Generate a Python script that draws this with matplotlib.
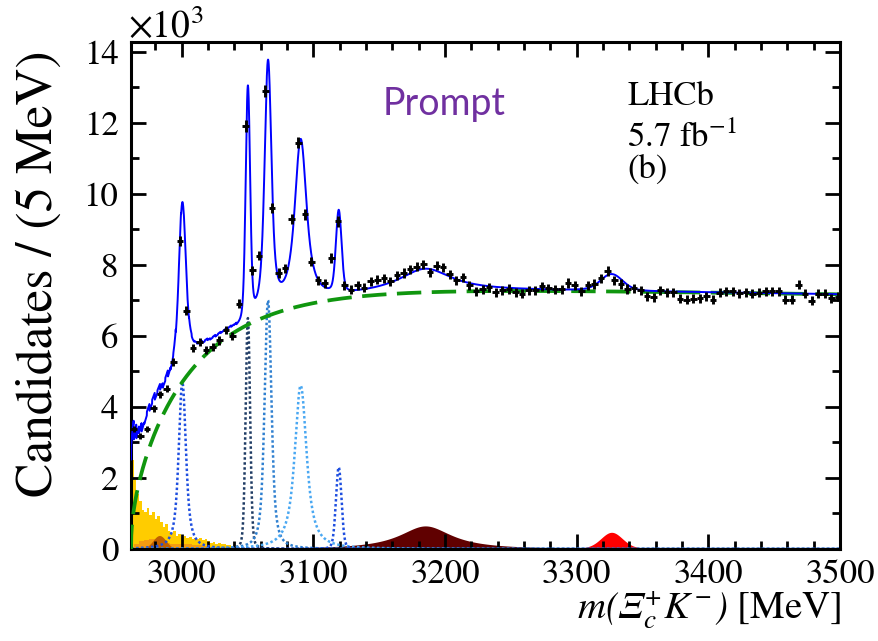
import numpy as np
import matplotlib
matplotlib.use("Agg")
import matplotlib.pyplot as plt
from matplotlib.ticker import MultipleLocator

# ---------------- data (values in units of 10^3 candidates / 5 MeV) ----------------
threshold = 2961.4          # m(Xi_c+) + m(K-)
bin_width = 5.0
first_bin_low = 2961.0
counts = [
    3.38, 3.19, 3.38, 3.96, 4.35, 4.51, 5.26, 8.68, 6.71, 5.65, 5.82, 5.59, 5.68, 5.87, 6.17, 5.99, 6.90,
    11.90, 7.84, 8.26, 12.88, 9.60, 7.77, 7.90, 9.28, 11.44, 9.42, 8.09, 7.56, 7.48, 8.19, 9.22,
    7.42, 7.30, 7.42, 7.36, 7.53, 7.58, 7.62, 7.54, 7.70, 7.77, 7.87, 7.95, 8.01, 7.79, 7.98, 7.93,
    7.73, 7.56, 7.65, 7.42, 7.26, 7.31, 7.37, 7.23, 7.28, 7.32, 7.23, 7.18, 7.28, 7.28, 7.40, 7.34,
    7.31, 7.31, 7.49, 7.42, 7.26, 7.42, 7.46,
    7.62, 7.82, 7.56, 7.46, 7.32, 7.34, 7.28, 7.12, 7.09, 7.28, 7.23, 7.23, 7.04, 7.02, 7.04, 7.06,
    7.12, 7.02, 7.21, 7.25, 7.25, 7.20, 7.23, 7.18, 7.21, 7.25, 7.25, 7.25, 7.02, 7.02, 7.44, 7.18,
    6.99, 7.18, 7.18, 7.06, 7.10,
]
error_scale = 1.5   # weighted-candidate uncertainty relative to sqrt(N)

# narrow Omega_c states: mass, natural width, resolution, peak height
peak_mass = [3000.4, 3050.2, 3065.5, 3090.3, 3119.2]
peak_gamma = [4.5, 0.8, 3.5, 8.7, 1.0]
peak_sigma = [1.5, 1.5, 1.7, 1.9, 1.9]
peak_height = [4.7, 6.5, 7.0, 4.6, 2.3]
peak_colors = ["#1f4fe0", "#1d3a63", "#2f80d0", "#4aa8f2", "#1f4fe0"]

# broad structures: mass, width, resolution, height
broad_mass = [3185.0, 3326.5]
broad_gamma = [48.0, 6.0]
broad_sigma = [2.0, 7.0]
broad_height = [0.65, 0.47]
broad_colors = ["#600000", "#ff0000"]

# background parameters (threshold shape)
bkg_norm, bkg_a, bkg_p, bkg_c, bkg_slope = 7.45, 0.095, 0.4, 66.0, 7.0e-5

# partially reconstructed (feed-down) components near threshold
feed_bin = 2.0
feed_yellow = [2.50, 1.95, 1.55, 1.35, 1.10, 1.05, 1.15, 0.95, 1.05, 0.85, 0.92, 0.75, 0.62, 0.70,
               0.52, 0.45, 0.50, 0.38, 0.42, 0.33, 0.36, 0.30, 0.34, 0.28, 0.31, 0.27, 0.30, 0.24,
               0.27, 0.22, 0.18, 0.20, 0.15, 0.17, 0.13, 0.14, 0.10, 0.11, 0.07, 0.05]
orange_start, orange_bin = 2963.4, 4.0
feed_orange = [0.15, 0.22, 0.25, 0.28, 0.26, 0.22, 0.18, 0.15, 0.14, 0.15, 0.13, 0.12, 0.10,
               0.08, 0.06, 0.04, 0.03]
brown_mass, brown_sigma, brown_height = 2983.0, 5.0, 0.38

# ---------------- model curves ----------------
x = np.arange(threshold, 3500.0001, 0.1)
dx = 0.1


def voigt(m, gamma, sigma, height):
    lor = (gamma / 2.0) / np.pi / ((x - m) ** 2 + (gamma / 2.0) ** 2)
    k = np.arange(-8 * sigma, 8 * sigma + dx / 2, dx)
    g = np.exp(-0.5 * (k / sigma) ** 2)
    prof = np.convolve(lor, g / g.sum(), mode="same")
    return prof / prof.max() * height


q = x - threshold
bkg = bkg_norm * (1 - np.exp(-(bkg_a * q ** bkg_p + q / bkg_c))) * (1 - bkg_slope * q)

peaks = [voigt(m, g, s, h) for m, g, s, h in zip(peak_mass, peak_gamma, peak_sigma, peak_height)]
broads = [voigt(m, g, s, h) for m, g, s, h in zip(broad_mass, broad_gamma, broad_sigma, broad_height)]

yel_edges = threshold + feed_bin * np.arange(len(feed_yellow) + 1)
idx = np.searchsorted(yel_edges, x, side="right") - 1
yellow_fine = np.where((idx >= 0) & (idx < len(feed_yellow)),
                       np.array(feed_yellow + [0.0])[np.clip(idx, 0, len(feed_yellow))], 0.0)

total = bkg + sum(peaks) + sum(broads) + yellow_fine

# ---------------- figure ----------------
plt.rcParams["font.family"] = ["STIXGeneral", "DejaVu Serif"]
plt.rcParams["mathtext.fontset"] = "stix"
plt.rcParams["mathtext.rm"] = "STIXGeneral:italic"
plt.rcParams["mathtext.it"] = "STIXGeneral:italic"

fig = plt.figure(figsize=(8.79, 6.41), dpi=100)
ax = fig.add_axes([131 / 879, 1 - 549 / 641, 709 / 879, 507.3 / 641])

# feed-down histograms
ax.stairs(feed_yellow, yel_edges, fill=True, color="#ffcc00", lw=0, zorder=1)
or_edges = orange_start + orange_bin * np.arange(len(feed_orange) + 1)
ax.stairs(feed_orange, or_edges, fill=True, color="#f39c12", lw=0, zorder=1.1)
brown = brown_height * np.exp(-0.5 * ((x - brown_mass) / brown_sigma) ** 2)
ax.fill_between(x, 0, brown, color="#c06000", lw=0, zorder=1.2)

for b, c in zip(broads, broad_colors):
    ax.fill_between(x, 0, b, color=c, lw=0, zorder=1.3)

for p, c in zip(peaks, peak_colors):
    ax.plot(x, p, color=c, lw=1.8, ls=(0, (1.0, 1.0)), zorder=2)

ax.plot(x, bkg, color="#10960f", lw=2.7, ls=(0, (6.5, 2.8)), zorder=3)
ax.plot(x, total, color="#0000ff", lw=1.4, zorder=4)

centers = first_bin_low + bin_width * (np.arange(len(counts)) + 0.5)
vals = np.array(counts)
ax.errorbar(centers, vals, xerr=bin_width / 2, yerr=error_scale * np.sqrt(vals * 1000) / 1000,
            fmt="none", ecolor="black", elinewidth=2.1, capsize=0, zorder=5)

ax.set_xlim(threshold, 3500)
ax.set_ylim(0, 14.28)
ax.xaxis.set_major_locator(MultipleLocator(100))
ax.xaxis.set_minor_locator(MultipleLocator(20))
ax.yaxis.set_major_locator(MultipleLocator(2))
ax.yaxis.set_minor_locator(MultipleLocator(1))
ax.tick_params(which="both", direction="in", top=True, right=True, width=2.0, labelsize=25)
ax.tick_params(which="major", length=11)
ax.tick_params(which="minor", length=6)
ax.tick_params(axis="x", pad=7)
ax.tick_params(axis="y", pad=9)
for s in ax.spines.values():
    s.set_linewidth(2.2)

fig.text(40 / 879, 1 - 274 / 641, "Candidates / (5 MeV)", rotation=90, ha="center", va="center",
         fontsize=37)
fig.text(128 / 879, 1 - 38 / 641, r"$\times10^{3}$", fontsize=27, ha="left", va="baseline",
         math_fontfamily="stix")
fig.text(841 / 879, 1 - 619 / 641, r"$m(\Xi_{c}^{+}K^{-})$ [MeV]", fontsize=28,
         ha="right", va="baseline", math_fontfamily="custom")

ax.text(0.355, 0.855, "Prompt", transform=ax.transAxes, fontsize=27, color="#7030a0",
        family=["Lato", "DejaVu Sans"], ha="left", va="baseline")
ax.text(0.6996, 0.875, "LHCb", transform=ax.transAxes, fontsize=25, ha="left", va="baseline")
ax.text(0.6996, 0.793, r"5.7 fb$^{-1}$", transform=ax.transAxes, fontsize=25, ha="left",
        va="baseline", math_fontfamily="stix")
ax.text(0.6996, 0.731, "(b)", transform=ax.transAxes, fontsize=25, ha="left", va="baseline")

fig.savefig("out.png", dpi=100)
